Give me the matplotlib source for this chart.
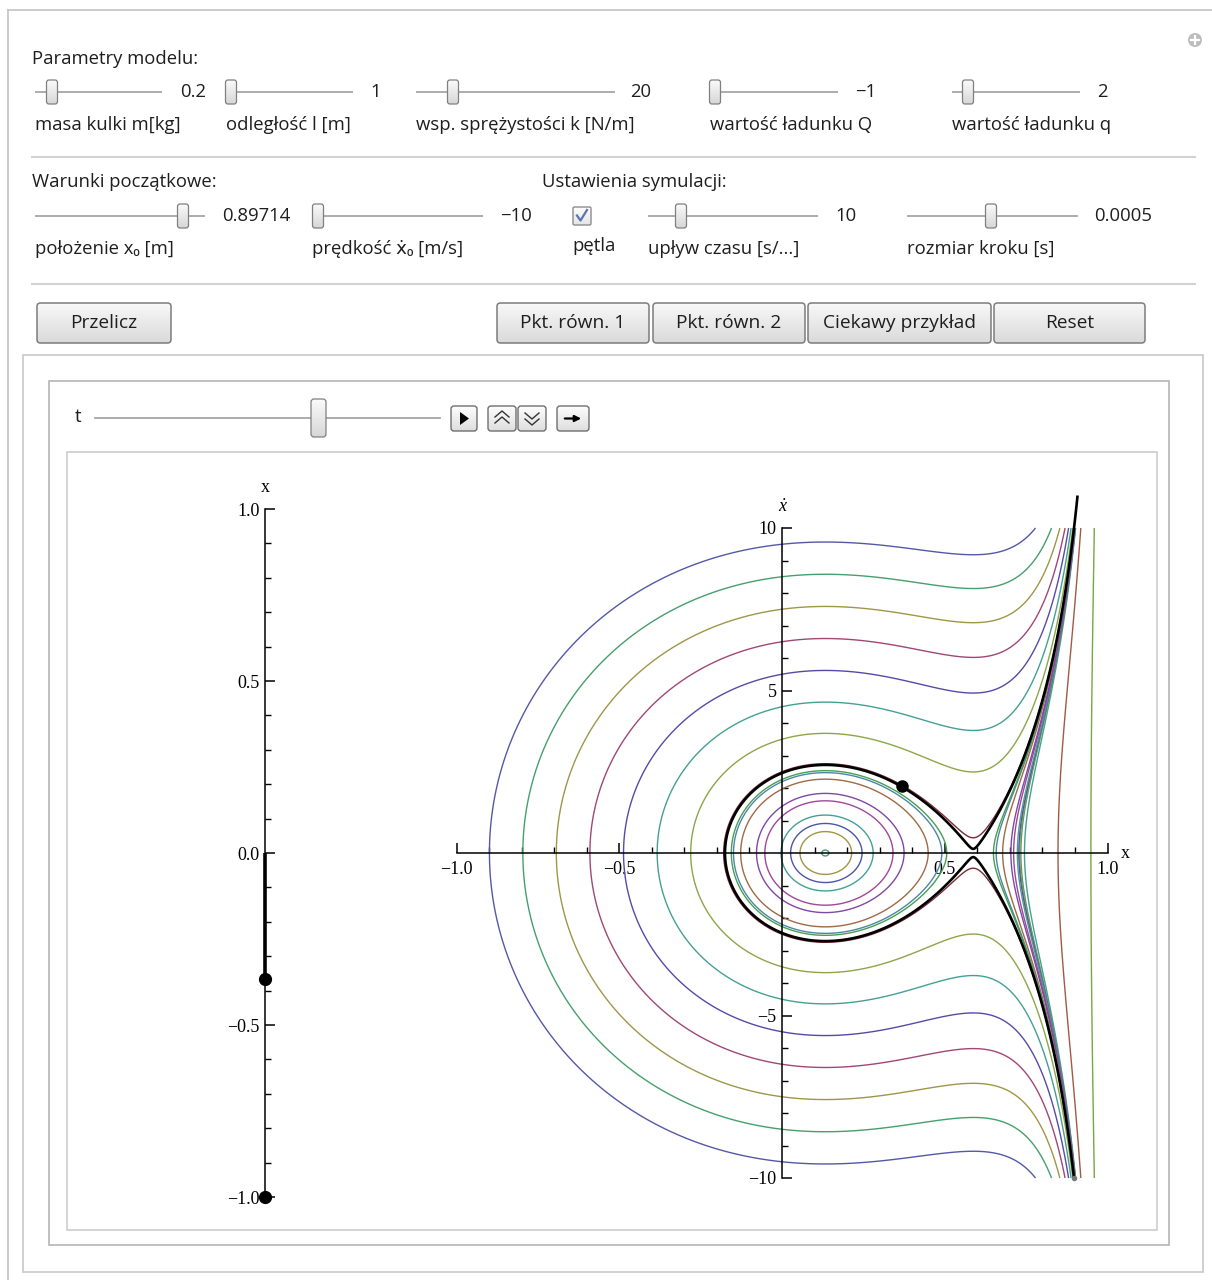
import numpy as np
import matplotlib
matplotlib.use("Agg")
import matplotlib.pyplot as plt
from matplotlib.patches import FancyBboxPatch, Rectangle, Circle, Polygon
from matplotlib.colors import LinearSegmentedColormap

# ---------------- data ----------------
# model parameters (slider values)
mass = 0.2
l_dist = 1.0
k_spring = 20.0
Q_charge = -1.0
q_charge = 2.0
# initial conditions / simulation settings
x0_init = 0.89714
v0_init = -10.0

param_labels = ["masa kulki m[kg]", "odległość l [m]", "wsp. sprężystości k [N/m]",
                "wartość ładunku Q", "wartość ładunku q"]
param_values = ["0.2", "1", "20", "\u22121", "2"]
init_labels = ["położenie x\u2080 [m]", "prędkość \u1e8b\u2080 [m/s]"]
init_values = ["0.89714", "\u221210"]
sim_labels = ["upływ czasu [s/...]", "rozmiar kroku [s]"]
sim_values = ["10", "0.0005"]
button_labels = ["Przelicz", "Pkt. równ. 1", "Pkt. równ. 2", "Ciekawy przykład", "Reset"]

# phase-portrait curves: level sets identified by a point
outer_vdot_at_x0 = [9.5, 8.5, 7.5, 6.5, 5.5, 4.5, 3.5, 2.5]
outer_colors = ["#5459a6", "#45a06c", "#a09648", "#a04776", "#574aa6", "#45a094", "#8ca648", "#7a2c38"]
ring_x_right = [0.144, 0.214, 0.246, 0.280, 0.341, 0.375, 0.449, 0.491, 0.506]
ring_colors = ["#45a06c", "#a09648", "#4d55a6", "#45a094", "#a0479a", "#8047a6", "#a06a45", "#4f86a6", "#45a050"]
right_only_x = [0.745, 0.848, 0.949]
right_only_colors = ["#45a094", "#a05a45", "#74a845"]

# current state markers
ball_x, ball_v = 0.368, 2.06
ball_pos_left = -0.366
charge_pos_left = -1.0

phase_xticks = [-1.0, -0.5, 0.5, 1.0]
phase_xticklabels = ["\u22121.0", "\u22120.5", "0.5", "1.0"]
phase_vticks = [-10, -5, 5, 10]
phase_vticklabels = ["\u221210", "\u22125", "5", "10"]
left_ticks = [-1.0, -0.5, 0.0, 0.5, 1.0]
left_ticklabels = ["\u22121.0", "\u22120.5", "0.0", "0.5", "1.0"]

# ---------------- style ----------------
UI = ['Open Sans', 'DejaVu Sans']
SERIF = ['Liberation Serif', 'DejaVu Serif']
plt.rcParams['font.family'] = UI
FS = 13.3
TXT = '#1e1e1e'

W, H = 1212, 1280
fig = plt.figure(figsize=(W / 100, H / 100), dpi=100)
fig.patch.set_facecolor('white')
ui = fig.add_axes([0, 0, 1, 1])
ui.axis('off')

grad = np.linspace(0, 1, 64)[:, None]
btn_cmap = LinearSegmentedColormap.from_list('btn', ['#f8f8f8', '#dadada'])
thumb_cmap = LinearSegmentedColormap.from_list('th', ['#fbfbfb', '#d6d6d6'])


def gbox(x1, y1, x2, y2, cmap, ec='#7a7a7a', r=3, lw=1.0, z=3):
    p = FancyBboxPatch((x1, y1), x2 - x1, y2 - y1, boxstyle=f'round,pad=0,rounding_size={r}',
                       fc='none', ec=ec, lw=lw, zorder=z + 1)
    ui.add_patch(p)
    im = ui.imshow(grad, extent=(x1, x2, y2, y1), cmap=cmap, aspect='auto', zorder=z,
                   interpolation='bilinear')
    im.set_clip_path(p)
    return p


def slider(x1, x2, y, tx, tw=11, th=24):
    ui.plot([x1, x2], [y, y], color='#a6a6a6', lw=1.3, zorder=2, solid_capstyle='butt')
    gbox(tx - tw / 2, y - th / 2, tx + tw / 2, y + th / 2, thumb_cmap, ec='#808080', r=2.5, lw=0.9)


def txt(x, y, s, ha='left', fs=FS, **kw):
    ui.text(x, y, s, ha=ha, va='center', fontsize=fs, color=TXT, **kw)


# frames
ui.plot([8, W], [10, 10], color='#c4c4c4', lw=1.2)
ui.plot([8, 8], [10, H], color='#c4c4c4', lw=1.2)
ui.add_patch(Rectangle((23, 355), 1180, 917, fc='none', ec='#c8c8c8', lw=1.2))
ui.add_patch(Rectangle((49, 381), 1120, 864, fc='none', ec='#b4b4b4', lw=1.2))
ui.add_patch(Rectangle((67, 452), 1090, 778, fc='none', ec='#cdcdcd', lw=1.2))
ui.add_patch(Circle((1195, 40), 7, fc='#bdbdbd', ec='none'))
ui.plot([1191, 1199], [40, 40], color='white', lw=1.6)
ui.plot([1195, 1195], [36, 44], color='white', lw=1.6)

# row 1: model parameters
txt(32, 59, "Parametry modelu:")
row1 = [(35, 162, 52, 180), (226, 353, 231, 370), (416, 615, 453, 630),
        (710, 838, 715, 855), (952, 1080, 968, 1097)]
for (a, b, t, vx), lab, val in zip(row1, param_labels, param_values):
    slider(a, b, 92, t)
    txt(vx, 92, val)
    txt(a, 125, lab)

ui.plot([32, 1195], [157, 157], color='#d2d2d2', lw=1.5)

# row 2: initial conditions and simulation settings
txt(32, 182, "Warunki początkowe:")
txt(542, 182, "Ustawienia symulacji:")
row2 = [(35, 205, 183, 222), (312, 483, 318, 500)]
for (a, b, t, vx), lab, val in zip(row2, init_labels, init_values):
    slider(a, b, 216, t)
    txt(vx, 216, val)
    txt(a, 249, lab)
row2b = [(648, 818, 681, 835), (907, 1078, 991, 1094)]
for (a, b, t, vx), lab, val in zip(row2b, sim_labels, sim_values):
    slider(a, b, 216, t)
    txt(vx, 216, val)
    txt(a, 249, lab)
# checkbox
gbox(573, 207, 591, 225, LinearSegmentedColormap.from_list('cb', ['#ffffff', '#e4e4e4']),
     ec='#8c8c8c', r=1.5, lw=1.0)
ui.plot([577, 580.5, 587], [215.5, 220.5, 210], color='#5a74b8', lw=1.6, zorder=6)
txt(572, 246, "pętla")

ui.plot([32, 1195], [284, 284], color='#d2d2d2', lw=1.5)

# buttons
btns = [(37, 171), (497, 649), (653, 805), (808, 991), (994, 1145)]
for (a, b), lab in zip(btns, button_labels):
    gbox(a, 303, b, 343, btn_cmap, ec='#7c7c7c', r=3.5, lw=1.1)
    txt((a + b) / 2, 323, lab, ha='center', fs=13.8)

# t slider row
txt(75, 417, "t", fs=13.5)
ui.plot([95, 440], [418, 418], color='#a6a6a6', lw=1.3, zorder=2)
gbox(311, 399, 326, 437, thumb_cmap, ec='#808080', r=3, lw=0.9)
icon_cmap = LinearSegmentedColormap.from_list('ic', ['#fdfdfd', '#dedede'])
for a, b in [(451, 477), (488, 516), (518, 546), (557, 589)]:
    gbox(a, 406, b, 431, icon_cmap, ec='#6e6e6e', r=3, lw=1.0)
ui.add_patch(Polygon([[460, 412], [460, 425], [469, 418.5]], closed=True, fc='black', ec='none', zorder=6))
for dy in (0, 6):
    ui.plot([495, 502, 509], [417 + dy, 411 + dy, 417 + dy], color='#333333', lw=1.0, zorder=6)
    ui.plot([525, 532, 539], [413 + dy, 419 + dy, 413 + dy], color='#333333', lw=1.0, zorder=6)
ui.annotate('', xy=(584, 418.5), xytext=(562, 418.5),
            arrowprops=dict(arrowstyle='-|>', color='black', lw=1.6, mutation_scale=9), zorder=6)

ui.set_xlim(0, W)
ui.set_ylim(H, 0)


# ---------------- plots ----------------
def place(xlim, ylim, x0px, sx, y0px, sy):
    left = x0px + sx * xlim[0]
    right = x0px + sx * xlim[1]
    top = y0px - sy * ylim[1]
    bottom = y0px - sy * ylim[0]
    a = fig.add_axes([left / W, 1 - bottom / H, (right - left) / W, (bottom - top) / H])
    a.set_xlim(*xlim)
    a.set_ylim(*ylim)
    a.patch.set_alpha(0)
    return a


def style_axes(a):
    for s in ('top', 'right'):
        a.spines[s].set_visible(False)
    for s in ('left', 'bottom'):
        a.spines[s].set_linewidth(1.1)
        a.spines[s].set_position(('data', 0))
    a.tick_params(which='major', direction='in', length=7, width=1.1, labelsize=13, pad=4)
    a.tick_params(which='minor', direction='in', length=4, width=1.0)
    a.tick_params(axis='x', which='major', pad=6)


def energy(x, v):
    return 0.5 * mass * v ** 2 + 0.5 * k_spring * x ** 2 + Q_charge * q_charge / (l_dist - x)


# phase portrait
ax = place((-1.08, 1.12), (-10.6, 11.3), 782, 325.5, 853, 32.5)
style_axes(ax)
ax.spines['left'].set_bounds(-10, 10)
ax.spines['bottom'].set_bounds(-1, 1)
ax.set_xticks(phase_xticks)
ax.set_xticklabels(phase_xticklabels, family=SERIF)
ax.set_xticks([t for t in np.round(np.arange(-0.9, 1.0, 0.1), 2) if abs(t) > 1e-9], minor=True)
ax.set_yticks(phase_vticks)
ax.set_yticklabels(phase_vticklabels, family=SERIF)
ax.set_yticks([t for t in range(-9, 10) if t != 0], minor=True)

lv = [(energy(0.0, v), c) for v, c in zip(outer_vdot_at_x0, outer_colors)]
lv += [(energy(x, 0.0), c) for x, c in zip(ring_x_right, ring_colors)]
lv += [(energy(x, 0.0), c) for x, c in zip(right_only_x, right_only_colors)]
lv.sort(key=lambda t: t[0])

xg = np.concatenate([np.linspace(-1.0, 0.9, 1900), np.linspace(0.9004, 0.985, 900)])
vg = np.linspace(-10, 10, 1601)
XX, VV = np.meshgrid(xg, vg)
ax.contour(XX, VV, energy(XX, VV), levels=[e for e, _ in lv], colors=[c for _, c in lv],
           linewidths=1.0, linestyles='solid', zorder=2)

vb = np.linspace(-10, 11.0, 1700)
XB, VB = np.meshgrid(xg, vb)
ax.contour(XB, VB, energy(XB, VB), levels=[energy(x0_init, v0_init)], colors=['black'],
           linewidths=1.9, linestyles='solid', zorder=3)
ax.plot([ball_x], [ball_v], 'o', color='black', ms=8, zorder=4)
ax.plot([x0_init], [v0_init], 'o', color='#777777', ms=3, zorder=4)
ax.text(0, 10.65, "\u1e8b", ha='center', va='center', fontsize=13, family=SERIF, style='italic')
ax.text(1.055, 0, "x", ha='center', va='center', fontsize=13, family=SERIF)

# left panel: position along the axis
axL = place((-1, 1), (-1.05, 1.05), 265, 50, 853, 344)
style_axes(axL)
axL.spines['bottom'].set_visible(False)
axL.spines['left'].set_bounds(-1, 1)
axL.set_xticks([])
axL.set_yticks(left_ticks)
axL.set_yticklabels(left_ticklabels, family=SERIF)
axL.set_yticks([t for t in np.round(np.arange(-0.9, 1.0, 0.1), 2) if abs((t * 2) - round(t * 2)) > 1e-9], minor=True)
axL.plot([0, 0], [0, ball_pos_left], color='black', lw=2.6, solid_capstyle='butt', zorder=3)
axL.plot([0, 0], [ball_pos_left, charge_pos_left], 'o', color='black', ms=8.5, clip_on=False, zorder=4)
axL.text(0, 1.062, "x", ha='center', va='center', fontsize=13, family=SERIF)

fig.savefig("out.png", dpi=100, facecolor='white')
